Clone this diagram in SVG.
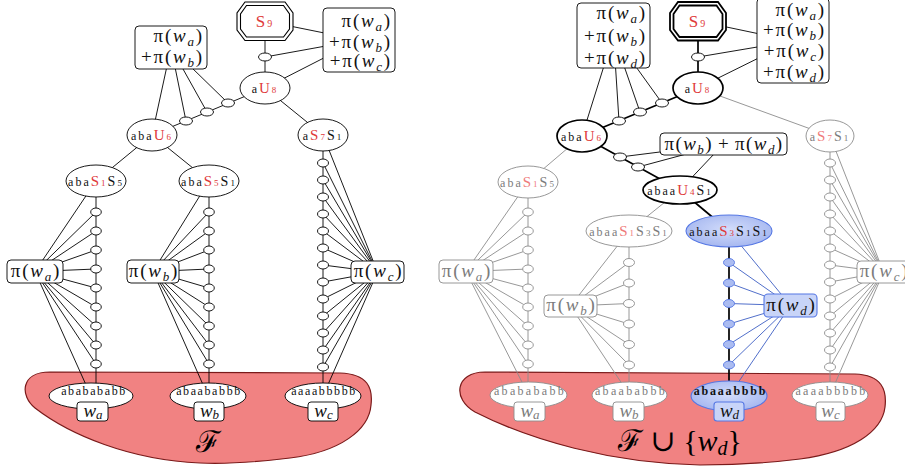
<svg xmlns="http://www.w3.org/2000/svg" width="905" height="471" viewBox="0 0 905 471">
<defs>
<radialGradient id="bl" cx="50%" cy="45%" r="60%">
<stop offset="0" stop-color="#d3ddfb"/>
<stop offset="1" stop-color="#a2b4ef"/>
</radialGradient>
<style>
.c{stroke:#000;stroke-width:0.9;fill:none}
.ck{stroke:#000;stroke-width:1.7;fill:none}
.cg{stroke:#8c8c8c;stroke-width:0.9;fill:none}
.cb{stroke:#3d5fc4;stroke-width:0.9;fill:none}
.n{fill:#fff;stroke:#000;stroke-width:0.9}
.nk{fill:#fff;stroke:#000;stroke-width:1.7}
.ng{fill:#fff;stroke:#8c8c8c;stroke-width:0.9}
.nb{fill:url(#bl);stroke:#5577e4;stroke-width:1.1}
.sb{fill:#abbcf1;stroke:#5577e4;stroke-width:0.9}
.bb{fill:#c8d4f8;stroke:#5577e4;stroke-width:1.1}
.oct{fill:#fff;stroke:#000;stroke-width:1.1}
.octk{fill:#fff;stroke:#000;stroke-width:1.8}
.blob{stroke:#7a1a1a;stroke-width:1.2;fill:#f18282}
.t{font-family:"Liberation Serif",serif;font-size:12px;letter-spacing:2px;text-anchor:middle;fill:#111}
.wt{font-family:"Liberation Serif",serif;font-size:12px;letter-spacing:1.6px;text-anchor:middle;fill:#111}
.R{fill:#e03a3a;font-size:15px}
.B{font-size:14px}
.s{font-size:9px}
.m{font-family:"Liberation Serif",serif;font-size:19px;letter-spacing:1.8px;fill:#111}
.i{font-style:italic}
.ms{font-size:13px;font-style:italic}
.w{font-family:"Liberation Serif",serif;font-size:19px;text-anchor:middle;fill:#111}
.wsub{font-size:13px;font-style:italic}
.F{font-family:"Liberation Serif","DejaVu Serif",serif;font-size:30px;text-anchor:middle;fill:#000}
.tg{fill:#7c7c7c}
.Rg{fill:#ef7b7b}
</style>
</defs>
<rect width="905" height="471" fill="#fff"/>

<g id="blob-F">
<path class="blob" d="M50,372 L340,373 C368,374 373,388 371,405 C369,430 340,452 290,458 C250,463 225,464 200,463 C130,460 70,435 35,408 C20,396 20,372 50,372 Z"/>
<text class="F" x="208" y="452">ℱ</text>
</g>
<g id="blob-Fwd">
<path class="blob" d="M485,372 L855,374 C882,375 887,390 885,407 C882,432 852,452 800,459 C760,464 730,465 700,465 C610,463 530,440 475,412 C452,399 455,372 485,372 Z"/>
<text class="F" x="680" y="451">ℱ ∪ {<tspan class="i">w</tspan><tspan class="wsub" style="font-size:20px" dy="4">d</tspan><tspan dy="-4">}</tspan></text>
</g>

<g id="connectors">
<path class="c" d="M265,21V88 M359,40L265,21 M359,40L265,57 M359,40L265,88 M265,88L152,135 M171,47.5L152,135 M171,47.5L186,121 M171,47.5L207,112 M171,47.5L228,103 M265,88L323,135 M152,135L96,181 M152,135L209,181 M96,181V396 M209,181V396 M323,135V396"/>
<path class="c" d="M35,271.5L96,181 M35,271.5L96,212 M35,271.5L96,231 M35,271.5L96,250 M35,271.5L96,269 M35,271.5L96,288 M35,271.5L96,307 M35,271.5L96,326 M35,271.5L96,345 M35,271.5L96,364 M35,271.5L91,396"/>
<path class="c" d="M153,271.5L209,181 M153,271.5L209,212 M153,271.5L209,231 M153,271.5L209,250 M153,271.5L209,269 M153,271.5L209,288 M153,271.5L209,307 M153,271.5L209,326 M153,271.5L209,345 M153,271.5L209,364 M153,271.5L208,396"/>
<path class="c" d="M377.5,272L323,135 M377.5,272L323,163 M377.5,272L323,180 M377.5,272L323,197 M377.5,272L323,214 M377.5,272L323,231 M377.5,272L323,248 M377.5,272L323,265 M377.5,272L323,282 M377.5,272L323,299 M377.5,272L323,316 M377.5,272L323,333 M377.5,272L323,350 M377.5,272L323,367 M377.5,272L323,396"/>

<path class="cg" d="M698,88L830,136 M582,136L528,182 M680,190L629,231 M528,182V395 M629,231V395 M830,136V395"/>
<path class="cg" d="M466,271.5L528,182 M466,271.5L528,212 M466,271.5L528,231 M466,271.5L528,250 M466,271.5L528,269 M466,271.5L528,288 M466,271.5L528,307 M466,271.5L528,326 M466,271.5L528,345 M466,271.5L528,364 M466,271.5L528.5,395"/>
<path class="cg" d="M570.5,306L629,231 M570.5,306L629,262.5 M570.5,306L629,283 M570.5,306L629,303.5 M570.5,306L629,324 M570.5,306L629,344.5 M570.5,306L629,365 M570.5,306L629.5,395"/>
<path class="cg" d="M883.5,272L830,136 M883.5,272L830,163 M883.5,272L830,180 M883.5,272L830,197 M883.5,272L830,214 M883.5,272L830,231 M883.5,272L830,248 M883.5,272L830,265 M883.5,272L830,282 M883.5,272L830,299 M883.5,272L830,316 M883.5,272L830,333 M883.5,272L830,350 M883.5,272L830,367 M883.5,272L830,395"/>
<path class="c" d="M793,41L698,21 M793,41L698,57 M793,41L698,88 M613.5,35.5L582,136 M613.5,35.5L619,121 M613.5,35.5L640,112 M613.5,35.5L662,103 M723.5,144L620,157 M723.5,144L638,167 M723.5,144L680,190"/>
<path class="ck" d="M698,21V88 M698,88L582,136 M582,136L680,190 M680,190L729,231 M729,231V396"/>
<path class="cb" d="M790.5,305.5L729,231 M790.5,305.5L729,262.5 M790.5,305.5L729,283 M790.5,305.5L729,303.5 M790.5,305.5L729,324 M790.5,305.5L729,344.5 M790.5,305.5L729,365 M790.5,305.5L729,396"/>
</g>

<g id="nodes-left">
<g id="L-S9">
<polygon class="oct" points="245,2 285,2 293,13 293,30 285,40.5 245,40.5 237,30 237,13"/>
<polygon class="oct" points="246.5,5.5 283.5,5.5 289.5,14 289.5,29 283.5,37 246.5,37 240.5,29 240.5,14"/>
<text class="t" x="265" y="27"><tspan class="R" style="font-size:17px">S</tspan><tspan class="R" style="font-size:10px">9</tspan></text>
</g>
<g id="L-dot-s9"><ellipse class="n" cx="265" cy="57" rx="6.5" ry="4"/></g>
<g id="L-aU8"><ellipse class="n" cx="265" cy="88" rx="25" ry="16"/>
<text class="t" x="265" y="92.5">a<tspan class="R">U</tspan><tspan class="R s">8</tspan></text></g>
<g id="L-sum-abc"><rect class="n" x="323" y="8" width="72" height="64" rx="4"/>
<text class="m" x="392" y="27" text-anchor="end">π(<tspan class="i">w</tspan><tspan class="ms" dy="4">a</tspan><tspan dy="-4">)</tspan></text>
<text class="m" x="392" y="47.5" text-anchor="end">+π(<tspan class="i">w</tspan><tspan class="ms" dy="4">b</tspan><tspan dy="-4">)</tspan></text>
<text class="m" x="392" y="67" text-anchor="end">+π(<tspan class="i">w</tspan><tspan class="ms" dy="4">c</tspan><tspan dy="-4">)</tspan></text></g>
<g id="L-sum-ab"><rect class="n" x="135" y="26" width="72" height="43" rx="4"/>
<text class="m" x="204" y="42" text-anchor="end">π(<tspan class="i">w</tspan><tspan class="ms" dy="4">a</tspan><tspan dy="-4">)</tspan></text>
<text class="m" x="204" y="63" text-anchor="end">+π(<tspan class="i">w</tspan><tspan class="ms" dy="4">b</tspan><tspan dy="-4">)</tspan></text></g>
<g id="L-dots-u">
<ellipse id="L-u1" class="n" cx="228" cy="103" rx="6.5" ry="4"/>
<ellipse id="L-u2" class="n" cx="207" cy="112" rx="6.5" ry="4"/>
<ellipse id="L-u3" class="n" cx="186" cy="121" rx="6.5" ry="4"/>
</g>
<g id="L-abaU6"><ellipse class="n" cx="152" cy="135" rx="25" ry="16"/>
<text class="t" x="152" y="139.5">aba<tspan class="R">U</tspan><tspan class="R s">6</tspan></text></g>
<g id="L-aS7S1"><ellipse class="n" cx="323" cy="135" rx="25" ry="16"/>
<text class="t" x="323" y="139.5">a<tspan class="R">S</tspan><tspan class="R s">7</tspan><tspan class="B">S</tspan><tspan class="s">1</tspan></text></g>
<g id="L-abaS1S5"><ellipse class="n" cx="96" cy="181" rx="30" ry="16"/>
<text class="t" x="96" y="185.5">aba<tspan class="R">S</tspan><tspan class="R s">1</tspan><tspan class="B">S</tspan><tspan class="s">5</tspan></text></g>
<g id="L-abaS5S1"><ellipse class="n" cx="209" cy="181" rx="30" ry="16"/>
<text class="t" x="209" y="185.5">aba<tspan class="R">S</tspan><tspan class="R s">5</tspan><tspan class="B">S</tspan><tspan class="s">1</tspan></text></g>
<g id="L-chain-a">
<ellipse class="n" cx="96" cy="212" rx="5.3" ry="4"/><ellipse class="n" cx="96" cy="231" rx="5.3" ry="4"/><ellipse class="n" cx="96" cy="250" rx="5.3" ry="4"/><ellipse class="n" cx="96" cy="269" rx="5.3" ry="4"/><ellipse class="n" cx="96" cy="288" rx="5.3" ry="4"/><ellipse class="n" cx="96" cy="307" rx="5.3" ry="4"/><ellipse class="n" cx="96" cy="326" rx="5.3" ry="4"/><ellipse class="n" cx="96" cy="345" rx="5.3" ry="4"/><ellipse class="n" cx="96" cy="364" rx="5.3" ry="4"/>
</g>
<g id="L-chain-b">
<ellipse class="n" cx="209" cy="212" rx="5.3" ry="4"/><ellipse class="n" cx="209" cy="231" rx="5.3" ry="4"/><ellipse class="n" cx="209" cy="250" rx="5.3" ry="4"/><ellipse class="n" cx="209" cy="269" rx="5.3" ry="4"/><ellipse class="n" cx="209" cy="288" rx="5.3" ry="4"/><ellipse class="n" cx="209" cy="307" rx="5.3" ry="4"/><ellipse class="n" cx="209" cy="326" rx="5.3" ry="4"/><ellipse class="n" cx="209" cy="345" rx="5.3" ry="4"/><ellipse class="n" cx="209" cy="364" rx="5.3" ry="4"/>
</g>
<g id="L-chain-c">
<ellipse class="n" cx="323" cy="163" rx="5.5" ry="4"/><ellipse class="n" cx="323" cy="180" rx="5.5" ry="4"/><ellipse class="n" cx="323" cy="197" rx="5.5" ry="4"/><ellipse class="n" cx="323" cy="214" rx="5.5" ry="4"/><ellipse class="n" cx="323" cy="231" rx="5.5" ry="4"/><ellipse class="n" cx="323" cy="248" rx="5.5" ry="4"/><ellipse class="n" cx="323" cy="265" rx="5.5" ry="4"/><ellipse class="n" cx="323" cy="282" rx="5.5" ry="4"/><ellipse class="n" cx="323" cy="299" rx="5.5" ry="4"/><ellipse class="n" cx="323" cy="316" rx="5.5" ry="4"/><ellipse class="n" cx="323" cy="333" rx="5.5" ry="4"/><ellipse class="n" cx="323" cy="350" rx="5.5" ry="4"/><ellipse class="n" cx="323" cy="367" rx="5.5" ry="4"/>
</g>
<g id="L-pi-a"><rect class="n" x="7" y="260" width="56" height="23" rx="4"/>
<text class="m" x="36" y="276.5" text-anchor="middle">π(<tspan class="i">w</tspan><tspan class="ms" dy="4">a</tspan><tspan dy="-4">)</tspan></text></g>
<g id="L-pi-b"><rect class="n" x="127" y="260" width="52" height="23" rx="4"/>
<text class="m" x="154" y="276.5" text-anchor="middle">π(<tspan class="i">w</tspan><tspan class="ms" dy="4">b</tspan><tspan dy="-4">)</tspan></text></g>
<g id="L-pi-c"><rect class="n" x="351" y="261" width="53" height="22" rx="4"/>
<text class="m" x="378.5" y="277" text-anchor="middle">π(<tspan class="i">w</tspan><tspan class="ms" dy="4">c</tspan><tspan dy="-4">)</tspan></text></g>
<g id="L-word-a"><ellipse class="n" cx="91" cy="396" rx="42" ry="13"/>
<text class="wt" x="94" y="395">ababababb</text>
<rect class="n" x="77" y="402" width="31" height="19" rx="3"/>
<text class="w" x="93" y="416.5"><tspan class="i">w</tspan><tspan class="wsub" dy="2.5">a</tspan></text></g>
<g id="L-word-b"><ellipse class="n" cx="208" cy="396" rx="38" ry="13"/>
<text class="wt" x="209" y="395">abaababbb</text>
<rect class="n" x="194" y="402" width="30" height="19" rx="3"/>
<text class="w" x="209.5" y="416.5"><tspan class="i">w</tspan><tspan class="wsub" dy="2.5">b</tspan></text></g>
<g id="L-word-c"><ellipse class="n" cx="323" cy="396" rx="38" ry="13"/>
<text class="wt" x="324" y="395">aaaabbbbb</text>
<rect class="n" x="308" y="402" width="30" height="19" rx="3"/>
<text class="w" x="323.5" y="416.5"><tspan class="i">w</tspan><tspan class="wsub" dy="2.5">c</tspan></text></g>
</g>

<g id="nodes-right">
<g id="R-S9">
<polygon class="octk" points="678,2 718,2 726,13 726,30 718,40.5 678,40.5 670,30 670,13"/>
<polygon class="octk" points="679.5,5.5 716.5,5.5 722.5,14 722.5,29 716.5,37 679.5,37 673.5,29 673.5,14"/>
<text class="t" x="698" y="27"><tspan class="R" style="font-size:17px">S</tspan><tspan class="R" style="font-size:10px">9</tspan></text>
</g>
<g id="R-dot-s9"><ellipse class="n" cx="698" cy="57" rx="6.5" ry="4"/></g>
<g id="R-aU8"><ellipse class="nk" cx="698" cy="88" rx="25" ry="16"/>
<text class="t" x="698" y="92.5">a<tspan class="R">U</tspan><tspan class="R s">8</tspan></text></g>
<g id="R-sum-abcd"><rect class="n" x="757" y="-2" width="72" height="85" rx="4"/>
<text class="m" x="826" y="15.5" text-anchor="end">π(<tspan class="i">w</tspan><tspan class="ms" dy="4">a</tspan><tspan dy="-4">)</tspan></text>
<text class="m" x="826" y="36" text-anchor="end">+π(<tspan class="i">w</tspan><tspan class="ms" dy="4">b</tspan><tspan dy="-4">)</tspan></text>
<text class="m" x="826" y="57" text-anchor="end">+π(<tspan class="i">w</tspan><tspan class="ms" dy="4">c</tspan><tspan dy="-4">)</tspan></text>
<text class="m" x="826" y="78" text-anchor="end">+π(<tspan class="i">w</tspan><tspan class="ms" dy="4">d</tspan><tspan dy="-4">)</tspan></text></g>
<g id="R-sum-abd"><rect class="n" x="577" y="3" width="73" height="65" rx="4"/>
<text class="m" x="647" y="19" text-anchor="end">π(<tspan class="i">w</tspan><tspan class="ms" dy="4">a</tspan><tspan dy="-4">)</tspan></text>
<text class="m" x="647" y="41.5" text-anchor="end">+π(<tspan class="i">w</tspan><tspan class="ms" dy="4">b</tspan><tspan dy="-4">)</tspan></text>
<text class="m" x="647" y="63.5" text-anchor="end">+π(<tspan class="i">w</tspan><tspan class="ms" dy="4">d</tspan><tspan dy="-4">)</tspan></text></g>
<g id="R-dots-u">
<ellipse id="R-u1" class="n" cx="662" cy="103" rx="6.5" ry="4"/>
<ellipse id="R-u2" class="n" cx="640" cy="112" rx="6.5" ry="4"/>
<ellipse id="R-u3" class="n" cx="619" cy="121" rx="6.5" ry="4"/>
</g>
<g id="R-abaU6"><ellipse class="nk" cx="582" cy="136" rx="25" ry="16"/>
<text class="t" x="582" y="140.5">aba<tspan class="R">U</tspan><tspan class="R s">6</tspan></text></g>
<g id="R-dots-v">
<ellipse id="R-v1" class="n" cx="620" cy="157" rx="6.5" ry="4"/>
<ellipse id="R-v2" class="n" cx="638" cy="167" rx="6.5" ry="4"/>
</g>
<g id="R-sum-bd"><rect class="n" x="660" y="133" width="127" height="22" rx="4"/>
<text class="m" x="724" y="149.5" text-anchor="middle" style="letter-spacing:1.4px">π(<tspan class="i">w</tspan><tspan class="ms" dy="4">b</tspan><tspan dy="-4">)</tspan><tspan dx="5">+</tspan><tspan dx="5">π(</tspan><tspan class="i">w</tspan><tspan class="ms" dy="4">d</tspan><tspan dy="-4">)</tspan></text></g>
<g id="R-aS7S1"><ellipse class="ng" cx="830" cy="136" rx="24" ry="16"/>
<text class="t tg" x="830" y="140.5">a<tspan class="R Rg">S</tspan><tspan class="R Rg s">7</tspan><tspan class="B">S</tspan><tspan class="s">1</tspan></text></g>
<g id="R-abaS1S5"><ellipse class="ng" cx="528" cy="182" rx="30" ry="16"/>
<text class="t tg" x="528" y="186.5">aba<tspan class="R Rg">S</tspan><tspan class="R Rg s">1</tspan><tspan class="B">S</tspan><tspan class="s">5</tspan></text></g>
<g id="R-abaaU4S1"><ellipse class="nk" cx="680" cy="190" rx="37" ry="14"/>
<text class="t" x="680" y="194.5">abaa<tspan class="R">U</tspan><tspan class="R s">4</tspan><tspan class="B">S</tspan><tspan class="s">1</tspan></text></g>
<g id="R-abaaS1S3S1"><ellipse class="ng" cx="629" cy="231" rx="43" ry="16"/>
<text class="t tg" x="629" y="235.5">abaa<tspan class="R Rg">S</tspan><tspan class="R Rg s">1</tspan><tspan class="B">S</tspan><tspan class="s">3</tspan><tspan class="B">S</tspan><tspan class="s">1</tspan></text></g>
<g id="R-abaaS3S1S1"><ellipse class="nb" cx="729" cy="231" rx="43" ry="16"/>
<text class="t" x="729" y="235.5">abaa<tspan class="R">S</tspan><tspan class="R s">3</tspan><tspan class="B">S</tspan><tspan class="s">1</tspan><tspan class="B">S</tspan><tspan class="s">1</tspan></text></g>
<g id="R-chain-a">
<ellipse class="ng" cx="528" cy="212" rx="5.3" ry="4"/><ellipse class="ng" cx="528" cy="231" rx="5.3" ry="4"/><ellipse class="ng" cx="528" cy="250" rx="5.3" ry="4"/><ellipse class="ng" cx="528" cy="269" rx="5.3" ry="4"/><ellipse class="ng" cx="528" cy="288" rx="5.3" ry="4"/><ellipse class="ng" cx="528" cy="307" rx="5.3" ry="4"/><ellipse class="ng" cx="528" cy="326" rx="5.3" ry="4"/><ellipse class="ng" cx="528" cy="345" rx="5.3" ry="4"/><ellipse class="ng" cx="528" cy="364" rx="5.3" ry="4"/>
</g>
<g id="R-chain-b">
<ellipse class="ng" cx="629" cy="262.5" rx="5.5" ry="4"/><ellipse class="ng" cx="629" cy="283" rx="5.5" ry="4"/><ellipse class="ng" cx="629" cy="303.5" rx="5.5" ry="4"/><ellipse class="ng" cx="629" cy="324" rx="5.5" ry="4"/><ellipse class="ng" cx="629" cy="344.5" rx="5.5" ry="4"/><ellipse class="ng" cx="629" cy="365" rx="5.5" ry="4"/>
</g>
<g id="R-chain-d">
<ellipse class="sb" cx="729" cy="262.5" rx="5.5" ry="4"/><ellipse class="sb" cx="729" cy="283" rx="5.5" ry="4"/><ellipse class="sb" cx="729" cy="303.5" rx="5.5" ry="4"/><ellipse class="sb" cx="729" cy="324" rx="5.5" ry="4"/><ellipse class="sb" cx="729" cy="344.5" rx="5.5" ry="4"/><ellipse class="sb" cx="729" cy="365" rx="5.5" ry="4"/>
</g>
<g id="R-chain-c">
<ellipse class="ng" cx="830" cy="163" rx="5.5" ry="4"/><ellipse class="ng" cx="830" cy="180" rx="5.5" ry="4"/><ellipse class="ng" cx="830" cy="197" rx="5.5" ry="4"/><ellipse class="ng" cx="830" cy="214" rx="5.5" ry="4"/><ellipse class="ng" cx="830" cy="231" rx="5.5" ry="4"/><ellipse class="ng" cx="830" cy="248" rx="5.5" ry="4"/><ellipse class="ng" cx="830" cy="265" rx="5.5" ry="4"/><ellipse class="ng" cx="830" cy="282" rx="5.5" ry="4"/><ellipse class="ng" cx="830" cy="299" rx="5.5" ry="4"/><ellipse class="ng" cx="830" cy="316" rx="5.5" ry="4"/><ellipse class="ng" cx="830" cy="333" rx="5.5" ry="4"/><ellipse class="ng" cx="830" cy="350" rx="5.5" ry="4"/><ellipse class="ng" cx="830" cy="367" rx="5.5" ry="4"/>
</g>
<g id="R-pi-a"><rect class="ng" x="439" y="260" width="54" height="23" rx="4"/>
<text class="m tg" x="467" y="276.5" text-anchor="middle">π(<tspan class="i">w</tspan><tspan class="ms" dy="4">a</tspan><tspan dy="-4">)</tspan></text></g>
<g id="R-pi-b"><rect class="ng" x="544" y="295" width="53" height="22" rx="4"/>
<text class="m tg" x="571.5" y="311" text-anchor="middle">π(<tspan class="i">w</tspan><tspan class="ms" dy="4">b</tspan><tspan dy="-4">)</tspan></text></g>
<g id="R-pi-d"><rect class="bb" x="764" y="294" width="53" height="23" rx="4"/>
<text class="m" x="791.5" y="310.5" text-anchor="middle">π(<tspan class="i">w</tspan><tspan class="ms" dy="4">d</tspan><tspan dy="-4">)</tspan></text></g>
<g id="R-pi-c"><rect class="ng" x="857" y="261" width="53" height="22" rx="4"/>
<text class="m tg" x="884.5" y="277" text-anchor="middle">π(<tspan class="i">w</tspan><tspan class="ms" dy="4">c</tspan><tspan dy="-4">)</tspan></text></g>
<g id="R-word-a"><ellipse class="ng" cx="528.5" cy="395" rx="38.5" ry="13"/>
<text class="wt tg" x="530" y="395" style="letter-spacing:2.3px">ababababb</text>
<rect class="ng" x="514" y="402" width="31" height="19" rx="3"/>
<text class="w tg" x="530" y="416.5"><tspan class="i">w</tspan><tspan class="wsub" dy="2.5">a</tspan></text></g>
<g id="R-word-b"><ellipse class="ng" cx="629.5" cy="395" rx="37.5" ry="13"/>
<text class="wt tg" x="631" y="395" style="letter-spacing:2.3px">abaababbb</text>
<rect class="ng" x="613" y="402" width="31" height="19" rx="3"/>
<text class="w tg" x="629" y="416.5"><tspan class="i">w</tspan><tspan class="wsub" dy="2.5">b</tspan></text></g>
<g id="R-word-d"><ellipse class="nb" cx="729" cy="396" rx="38" ry="15"/>
<text class="wt" x="730.5" y="395" style="letter-spacing:1.8px;font-weight:bold">abaaabbbb</text>
<rect class="bb" x="714" y="402" width="30" height="19" rx="3"/>
<text class="w" x="729.5" y="416.5"><tspan class="i">w</tspan><tspan class="wsub" dy="2.5">d</tspan></text></g>
<g id="R-word-c"><ellipse class="ng" cx="830" cy="395" rx="38" ry="13"/>
<text class="wt tg" x="831.5" y="395" style="letter-spacing:2.3px">aaaabbbbb</text>
<rect class="ng" x="816" y="402" width="29" height="19" rx="3"/>
<text class="w tg" x="830.5" y="416.5"><tspan class="i">w</tspan><tspan class="wsub" dy="2.5">c</tspan></text></g>
</g>
</svg>
